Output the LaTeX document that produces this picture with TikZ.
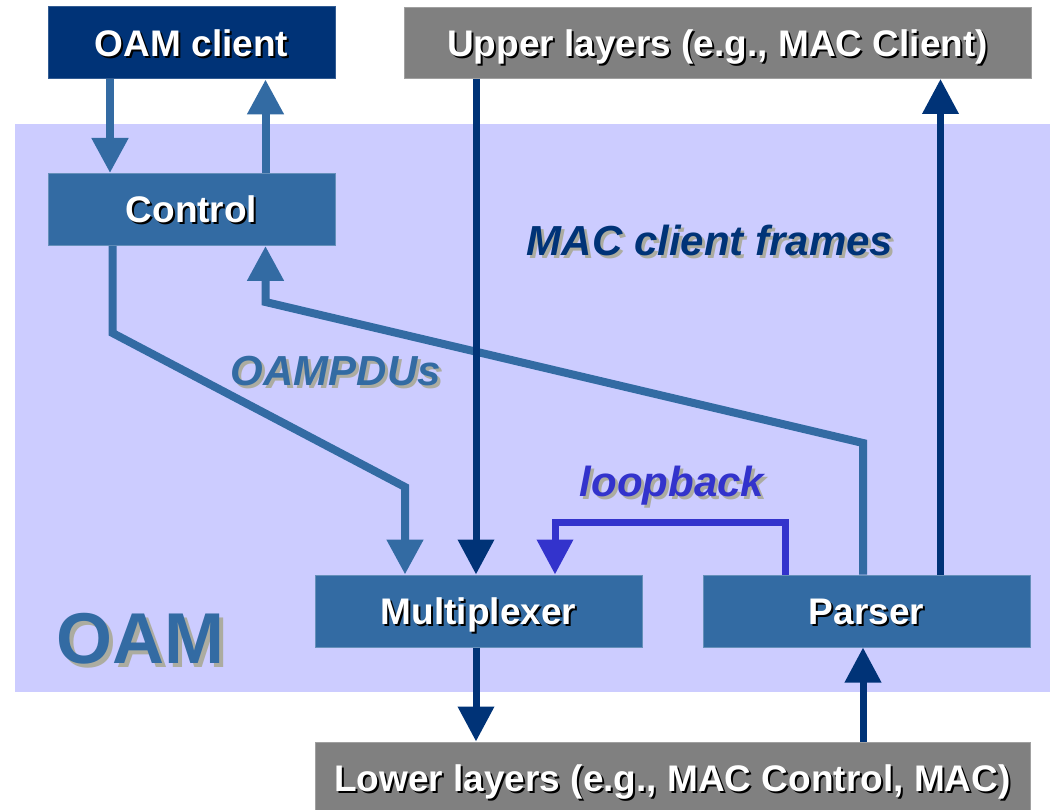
\documentclass[tikz,border=0pt]{standalone}
\usepackage{fontspec}
\setmainfont{Liberation Sans}
\usetikzlibrary{arrows.meta}
\definecolor{navy}{RGB}{0,51,119}
\definecolor{midblue}{RGB}{51,107,163}
\definecolor{lav}{RGB}{204,204,255}
\definecolor{grayb}{RGB}{128,128,128}
\definecolor{loopc}{RGB}{51,51,204}
\definecolor{shadowg}{RGB}{172,172,160}
\newcommand\shd[3][2pt]{\leavevmode\rlap{\kern#1\raisebox{-#1}{\textcolor{#3}{#2}}}#2}
\begin{document}
\begin{tikzpicture}[x=1pt,y=-1pt,
  box/.style={rectangle, inner sep=0pt, text=white,
    font=\bfseries\fontsize{37}{40}\selectfont, text height=26.5pt, text depth=0pt},
  bluebox/.style={box, fill=midblue, draw=midblue!75!white, line width=1pt},
  navybox/.style={box, fill=navy, draw=navy!80!white, line width=1pt},
  graybox/.style={box, fill=grayb, draw=grayb!75!white, line width=1pt},
  lbl/.style={inner sep=0pt, font=\bfseries\itshape\fontsize{42}{44}\selectfont,
    text height=30pt, text depth=0pt},
  tip/.style={-{Triangle[width=35pt,length=35pt]}},
  medA/.style={draw=midblue, line width=8pt, line join=miter},
  navA/.style={draw=navy, line width=7pt, line join=miter},
  loopA/.style={draw=loopc, line width=7pt, line join=miter}]
\useasboundingbox (0,0) rectangle (1050,810);
\fill[white] (0,0) rectangle (1050,810);
% OAM region
\fill[lav] (15,124) rectangle (1050,692);
\node[inner sep=0pt, text=midblue, font=\bfseries\fontsize{72}{76}\selectfont,
  text height=52pt, text depth=0pt] (oam) at (140,637) {\shd[4pt]{OAM}{shadowg}};
% boxes
\node[navybox, minimum width=287pt, minimum height=72pt] (client) at (191.5,43) {\shd{OAM client}{black}};
\node[graybox, minimum width=627pt, minimum height=71pt] (upper) at (717.5,43) {\shd{Upper layers (e.g., MAC Client)}{black}};
\node[bluebox, minimum width=287pt, minimum height=72pt] (control) at (191.5,209.5) {\shd{Control}{black}};
\node[bluebox, minimum width=327pt, minimum height=72pt] (mux) at (478.5,611) {\shd{Multiplexer}{black}};
\node[bluebox, minimum width=327pt, minimum height=72pt] (parser) at (866.5,611) {\shd{Parser}{black}};
\node[graybox, minimum width=715pt, minimum height=72pt] (lower) at (672.5,778) {\shd{Lower layers (e.g., MAC Control, MAC)}{black}};
% labels
\node[lbl, text=navy] (frames) at (710,241) {\shd[3pt]{MAC client frames}{shadowg}};
\node[lbl, text=midblue] (pdus) at (336,370) {\shd[3pt]{OAMPDUs}{shadowg}};
\node[lbl, text=loopc] (loop) at (672,481) {\shd[3pt]{loopback}{shadowg}};
% coordinates
\coordinate (a1) at (110,0);
\coordinate (a2) at (265.5,0);
\coordinate (k1) at (112.5,333);
\coordinate (k2) at (405,487);
\coordinate (p1) at (863,443);
\coordinate (p2) at (265.5,302);
\coordinate (m1) at (476,0);
\coordinate (u1) at (940.5,0);
\coordinate (l1) at (785,522);
\coordinate (l2) at (555,522);
\coordinate (b1) at (863,0);
% connectors
\draw[medA, tip] (client.south -| a1) -- (control.north -| a1);
\draw[medA, tip] (control.north -| a2) -- (client.south -| a2);
\draw[medA, tip] (control.south -| k1) -- (k1) -- (k2) -- (mux.north -| k2);
\draw[medA, tip] (parser.north -| p1) -- (p1) -- (p2) -- (control.south -| p2);
\draw[navA, tip] (upper.south -| m1) -- (mux.north -| m1);
\draw[navA, tip] (parser.north -| u1) -- (upper.south -| u1);
\draw[loopA, tip] (parser.north -| l1) -- (l1) -- (l2) -- (mux.north -| l2);
\draw[navA, tip] (mux.south -| m1) -- (lower.north -| m1);
\draw[navA, tip] (lower.north -| b1) -- (parser.south -| b1);
\end{tikzpicture}
\end{document}
